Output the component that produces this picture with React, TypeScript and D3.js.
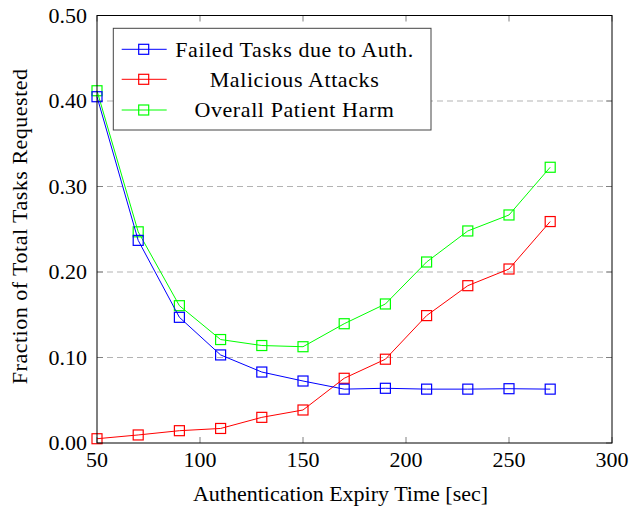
import React from "react";
import * as d3 from "d3";

const xValues = [50, 70, 90, 110, 130, 150, 170, 190, 210, 230, 250, 270];
const failedTasks = [0.405, 0.237, 0.147, 0.103, 0.083, 0.0725, 0.063, 0.064, 0.063, 0.063, 0.0635, 0.063];
const maliciousAttacks = [0.005, 0.0094, 0.0144, 0.017, 0.03, 0.0386, 0.0757, 0.098, 0.149, 0.184, 0.2035, 0.259];
const overallHarm = [0.412, 0.247, 0.1606, 0.121, 0.114, 0.1126, 0.1395, 0.1626, 0.2117, 0.248, 0.2667, 0.3225];
const xTicks = [50, 100, 150, 200, 250, 300];
const yTicks = [0, 0.1, 0.2, 0.3, 0.4, 0.5];
const gridTicks = [0.1, 0.2, 0.3, 0.4];
const seriesNames = ["Failed Tasks due to Auth.", "Malicious Attacks", "Overall Patient Harm"];
const seriesColors = ["#0000ff", "#ff0000", "#00ff00"];

const W = 631;
const H = 508;
const M = { left: 97, right: 612, top: 15.5, bottom: 443 };
const FONT = "'Liberation Serif', 'Times New Roman', serif";
const FS = 22;

export default function App() {
  const x = d3.scaleLinear().domain([50, 300]).range([M.left, M.right]);
  const y = d3.scaleLinear().domain([0, 0.5]).range([M.bottom, M.top]);
  const series = [failedTasks, maliciousAttacks, overallHarm];
  const line = d3
    .line<number>()
    .x((_, i) => x(xValues[i]))
    .y((d) => y(d));
  const sq = 10;
  const drawOrder = [2, 1, 0];
  const legendRows = [49.3, 79.3, 110];

  return (
    <svg width={W} height={H} style={{ position: "absolute", left: 0, top: 0 }} fontFamily={FONT}>
      <rect x={0} y={0} width={W} height={H} fill="#fff" />
      {gridTicks.map((t) => (
        <line key={"g" + t} x1={M.left} x2={M.right} y1={y(t)} y2={y(t)} stroke="#b3b3b3" strokeWidth={1} strokeDasharray="6,4" />
      ))}
      {xTicks.map((t) => (
        <g key={"xt" + t}>
          <line x1={x(t)} x2={x(t)} y1={M.bottom} y2={M.bottom - 6} stroke="#808080" strokeWidth={1} />
          <line x1={x(t)} x2={x(t)} y1={M.top} y2={M.top + 6} stroke="#808080" strokeWidth={1} />
          <text x={x(t)} y={467} textAnchor="middle" fontSize={FS} fill="#000">
            {t}
          </text>
        </g>
      ))}
      {yTicks.map((t) => (
        <g key={"yt" + t}>
          <line x1={M.left} x2={M.left + 6} y1={y(t)} y2={y(t)} stroke="#808080" strokeWidth={1} />
          <line x1={M.right} x2={M.right - 6} y1={y(t)} y2={y(t)} stroke="#808080" strokeWidth={1} />
          <text x={87} y={y(t)} dy="0.33em" textAnchor="end" fontSize={FS} fill="#000">
            {d3.format(".2f")(t)}
          </text>
        </g>
      ))}
      {drawOrder.map((si) => (
        <g key={"s" + si}>
          <path d={line(series[si]) || ""} fill="none" stroke={seriesColors[si]} strokeWidth={1} />
          {series[si].map((v, i) => (
            <rect
              key={i}
              x={x(xValues[i]) - sq / 2}
              y={y(v) - sq / 2}
              width={sq}
              height={sq}
              fill="none"
              stroke={seriesColors[si]}
              strokeWidth={1.2}
            />
          ))}
        </g>
      ))}
      <rect x={M.left} y={M.top} width={M.right - M.left} height={M.bottom - M.top} fill="none" stroke="#000" strokeWidth={1} />
      <rect x={113.3} y={28.3} width={317.7} height={101.7} fill="#fff" stroke="#444" strokeWidth={1} />
      {seriesNames.map((name, i) => (
        <g key={"l" + i}>
          <line x1={121.7} x2={166.7} y1={legendRows[i]} y2={legendRows[i]} stroke={seriesColors[i]} strokeWidth={1} />
          <rect x={143.7 - sq / 2} y={legendRows[i] - sq / 2} width={sq} height={sq} fill="none" stroke={seriesColors[i]} strokeWidth={1.2} />
          <text x={294.5} y={legendRows[i]} dy="0.33em" textAnchor="middle" fontSize={FS} letterSpacing={0.6} fill="#000">
            {name}
          </text>
        </g>
      ))}
      <text x={340.5} y={501} textAnchor="middle" fontSize={FS} fill="#000">
        Authentication Expiry Time [sec]
      </text>
      <text transform={`translate(26.5,226.3) rotate(-90)`} textAnchor="middle" fontSize={FS} letterSpacing={0.5} fill="#000">
        Fraction of Total Tasks Requested
      </text>
    </svg>
  );
}
